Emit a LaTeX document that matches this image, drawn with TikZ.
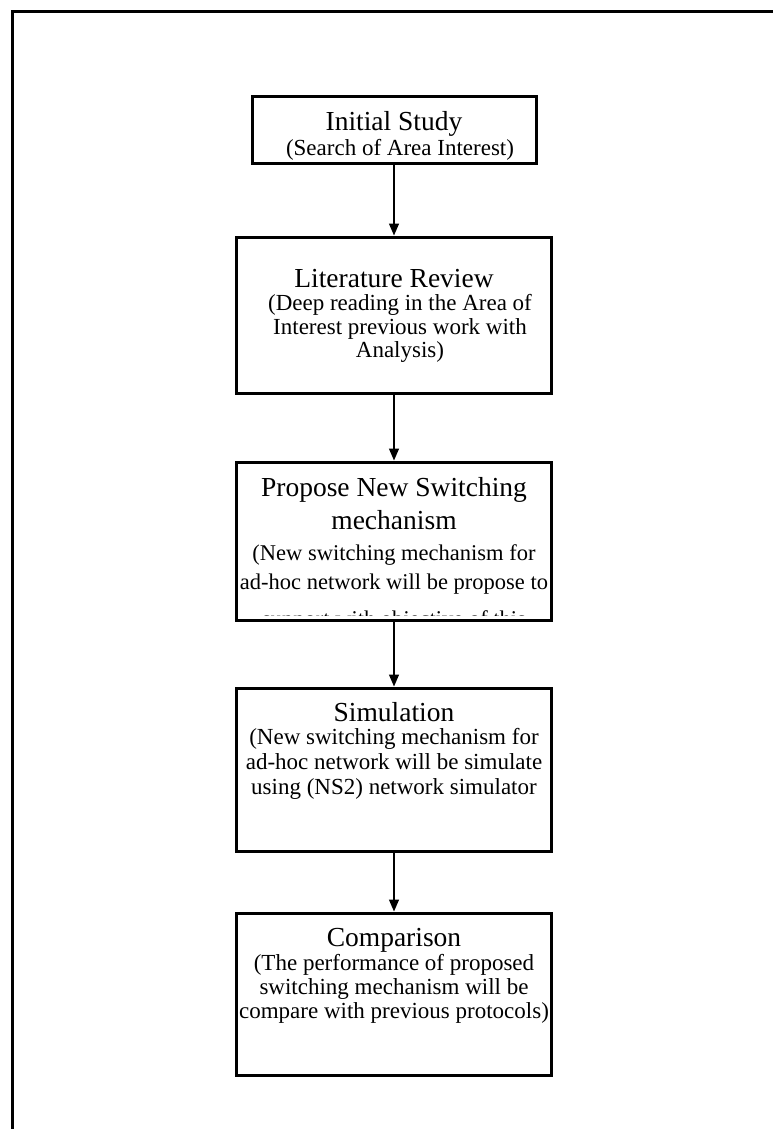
\documentclass[tikz,border=0pt]{standalone}
\usepackage{fontspec}
\setmainfont{Liberation Serif}
\usetikzlibrary{arrows.meta}

\tikzset{
  stagebox/.style={draw, line width=3pt, inner sep=0pt, outer sep=0pt, minimum width=315pt},
  ttl/.style={anchor=base, inner sep=0pt, font=\fontsize{27.5}{32}\selectfont},
  sub/.style={anchor=base, inner sep=0pt, font=\fontsize{23}{26}\selectfont},
  subtight/.style={anchor=base, inner sep=0pt, font=\fontsize{22.5}{25}\selectfont},
  flow/.style={line width=1.3pt, -{Triangle[length=12pt,width=10pt]}, shorten <=1.5pt, shorten >=1.5pt},
  frameline/.style={line width=3pt}
}

\begin{document}
\begin{tikzpicture}[x=1pt,y=-1pt]
\useasboundingbox (0,0) rectangle (773,1129);

% open page frame (top and left rules only)
\coordinate (fbl) at (12.5,1129);
\coordinate (ftl) at (12.5,11.5);
\coordinate (ftr) at (773,11.5);
\draw[frameline] (fbl) -- (ftl) -- (ftr);

% stage boxes
\node[stagebox, minimum width=284pt, minimum height=66pt] (b1) at (394,130) {};
\node[stagebox, minimum height=156pt] (b2) at (394,315) {};
\node[stagebox, minimum height=158pt] (b3) at (394,541) {};
\node[stagebox, minimum height=163pt] (b4) at (394,769.5) {};
\node[stagebox, minimum height=162pt] (b5) at (394,994) {};

% Initial Study
\node[ttl] (t1) at (394,131) {Initial Study};
\node[sub] (s1a) at (400,155) {(Search of Area Interest)};

% Literature Review
\node[ttl] (t2) at (394,287.5) {Literature Review};
\node[sub] (s2a) at (400,310) {(Deep reading in the Area of};
\node[sub] (s2b) at (400,334) {Interest previous work with};
\node[sub] (s2c) at (400,357) {Analysis)};

% Propose New Switching mechanism (overflowing text is cut at the box)
\begin{scope}
  \clip (200,463.5) rectangle (590,615);
  \node[ttl] (t3a) at (394,496.5) {Propose New Switching};
  \node[ttl] (t3b) at (394,529.5) {mechanism};
  \node[subtight] (s3a) at (394,560) {(New switching mechanism for};
  \node[subtight] (s3b) at (394,589) {ad-hoc network will be propose to};
  \node[subtight] (s3c) at (394,626) {support with objective of this};
\end{scope}

% Simulation
\node[ttl] (t4) at (394,721) {Simulation};
\node[sub] (s4a) at (394,744.5) {(New switching mechanism for};
\node[sub] (s4b) at (394,769) {ad-hoc network will be simulate};
\node[sub] (s4c) at (394,794) {using (NS2) network simulator};

% Comparison
\node[ttl] (t5) at (394,946) {Comparison};
\node[sub] (s5a) at (394,970) {(The performance of proposed};
\node[sub] (s5b) at (394,994.5) {switching mechanism will be};
\node[sub] (s5c) at (394,1018.5) {compare with previous protocols)};

% connectors
\draw[flow] (b1.south) -- (b2.north);
\draw[flow] (b2.south) -- (b3.north);
\draw[flow] (b3.south) -- (b4.north);
\draw[flow] (b4.south) -- (b5.north);
\end{tikzpicture}
\end{document}
